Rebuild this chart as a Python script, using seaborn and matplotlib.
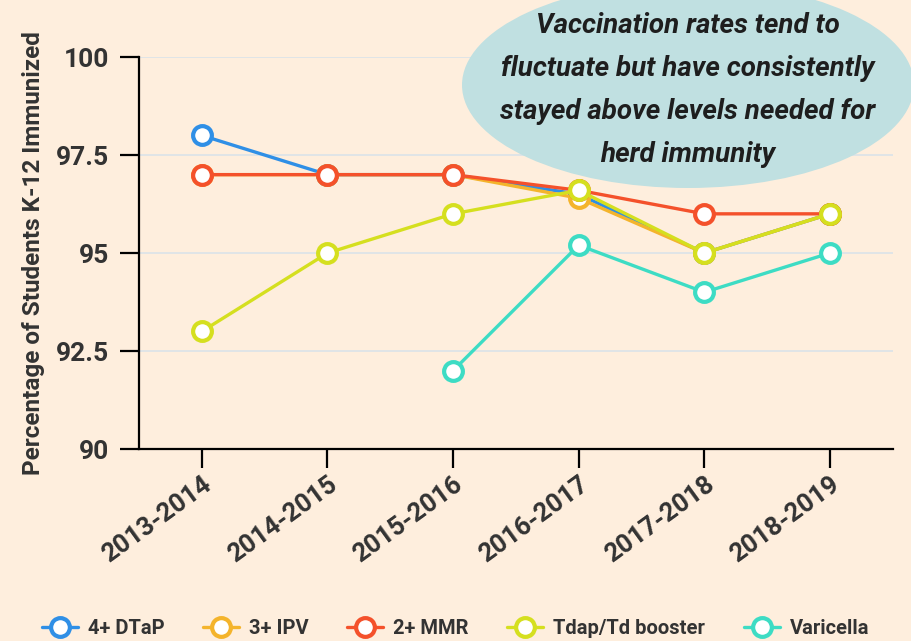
import numpy as np
import pandas as pd
import matplotlib.pyplot as plt
from matplotlib.patches import Ellipse
import seaborn as sns

years = ['2013-2014', '2014-2015', '2015-2016', '2016-2017', '2017-2018', '2018-2019']
dtap = [98.0, 97.0, 97.0, 96.5, 95.0, 96.0]
ipv = [97.0, 97.0, 97.0, 96.4, 95.0, 96.0]
mmr = [97.0, 97.0, 97.0, 96.6, 96.0, 96.0]
tdap = [93.0, 95.0, 96.0, 96.6, 95.0, 96.0]
varicella = [np.nan, np.nan, 92.0, 95.2, 94.0, 95.0]

names = ['4+ DTaP', '3+ IPV', '2+ MMR', 'Tdap/Td booster', 'Varicella']
colors = ['#2f8fe6', '#f4b42c', '#f4512b', '#d5df1f', '#3ddcc4']
note = 'Vaccination rates tend to\nfluctuate but have consistently\nstayed above levels needed for\nherd immunity'

bg = '#feeedd'
txt = '#333333'

sns.set_theme(style='white')
plt.rcParams['font.family'] = ['Roboto', 'DejaVu Sans']

df = pd.DataFrame({'year': years, '4+ DTaP': dtap, '3+ IPV': ipv, '2+ MMR': mmr,
                   'Tdap/Td booster': tdap, 'Varicella': varicella})

fig = plt.figure(figsize=(9.11, 6.41), dpi=100, facecolor=bg)
ax = fig.add_axes([0.1526, 0.2995, 0.8274, 0.6115], facecolor=bg)

for name, c in zip(names, colors):
    sub = df[['year', name]].dropna()
    sns.lineplot(data=sub, x='year', y=name, ax=ax, color=c, lw=2.4, marker='o',
                 ms=13.5, mfc='white', mec=c, mew=3.0, label=name, sort=False)

ax.set_xlim(-0.5, 5.5)
ax.set_ylim(90, 100)
ax.set_yticks([90, 92.5, 95, 97.5, 100])
ax.set_yticklabels(['90', '92.5', '95', '97.5', '100'])
ax.yaxis.grid(True, color='#dde3e8', lw=1.3)
ax.set_axisbelow(True)
for s in ['top', 'right']:
    ax.spines[s].set_visible(False)
for s in ['left', 'bottom']:
    ax.spines[s].set_color('black')
    ax.spines[s].set_linewidth(1.6)
ax.tick_params(axis='both', bottom=True, left=True, direction='out', length=13.5,
               width=1.6, color='black', labelcolor=txt)
ax.tick_params(axis='y', pad=8, labelsize=19)
ax.tick_params(axis='x', pad=3, labelsize=18.5)
for lab in ax.get_xticklabels() + ax.get_yticklabels():
    lab.set_fontweight('bold')
plt.setp(ax.get_xticklabels(), rotation=36, ha='right', rotation_mode='anchor')
ax.set_xlabel('')
ax.set_ylabel('Percentage of Students K-12 Immunized', fontsize=17.5, fontweight='bold',
              color=txt, labelpad=8)

ell = Ellipse((688, 641 - 85), 452, 206, transform=None, facecolor='#c0e0e1',
              edgecolor='none', zorder=5)
fig.patches.append(ell)
fig.text(688 / 911, 1 - 90 / 641, note, ha='center', va='center', fontsize=20,
         fontstyle='italic', fontweight='bold', color='#1e1e1e', linespacing=1.75,
         zorder=6)

leg = ax.legend(loc='center', bbox_to_anchor=(0.5, 0.02), bbox_transform=fig.transFigure,
                ncol=5, frameon=False, fontsize=14.5, handlelength=1.8,
                columnspacing=1.9, handletextpad=0.5)
for t in leg.get_texts():
    t.set_fontweight('bold')
    t.set_color(txt)

fig.savefig('out.png', dpi=100, facecolor=bg)
